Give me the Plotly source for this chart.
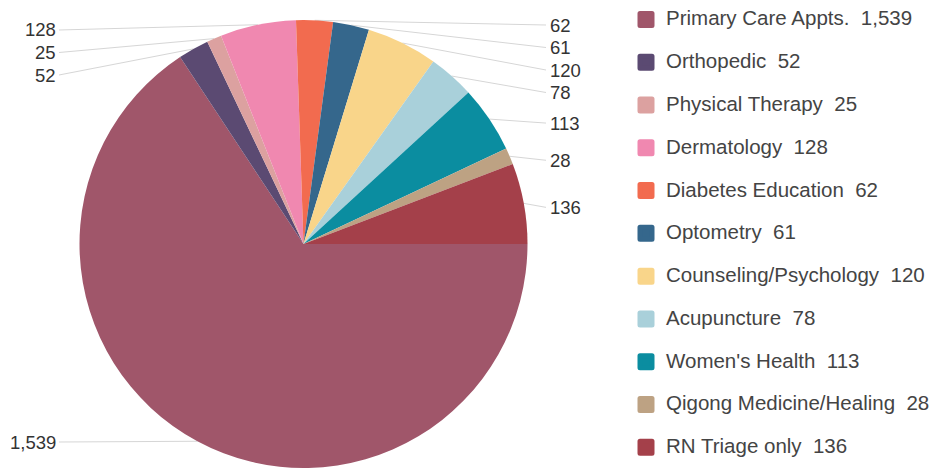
import math
import plotly.graph_objects as go

# ---------------- data ----------------
categories = ["Primary Care Appts.", "Orthopedic", "Physical Therapy", "Dermatology",
              "Diabetes Education", "Optometry", "Counseling/Psychology", "Acupuncture",
              "Women's Health", "Qigong Medicine/Healing", "RN Triage only"]
values = [1539, 52, 25, 128, 62, 61, 120, 78, 113, 28, 136]
colors = ["#A0566A", "#5B4A72", "#DCA1A0", "#F088B0", "#F26B4F", "#35678C",
          "#F9D58A", "#A9D0DA", "#0B8DA0", "#BDA283", "#A4404A"]

# ---------------- layout geometry (pixel coords) ----------------
W, H = 950, 468
CX, CY, R = 303.5, 244, 224
FONT = "Liberation Sans, Arial, sans-serif"

def px2x(px):
    return px / W

def px2y(py):
    return 1 - py / H

legend_text = []
for i, (c, v) in enumerate(zip(categories, values)):
    t = f"<span style='font-size:20.5px'>{c}\u00a0\u00a0{v:,}</span>"
    if i < len(categories) - 1:
        t += "<br> "
    legend_text.append(t)

domain = dict(x=[px2x(CX - R), px2x(CX + R)], y=[px2y(CY + R), px2y(CY - R)])

fig = go.Figure()
fig.add_trace(go.Pie(
    labels=legend_text, values=values, sort=False, direction="clockwise", rotation=90,
    marker=dict(colors=colors, line=dict(width=0)), textinfo="none",
    showlegend=False, domain=domain, hoverinfo="label+value",
))
# tiny helper pie (hidden behind the legend box) that supplies the legend swatches
fig.add_trace(go.Pie(
    labels=legend_text, values=values, sort=False, direction="clockwise", rotation=90,
    marker=dict(colors=colors, line=dict(width=5, color=colors)), textinfo="none",
    showlegend=True, domain=dict(x=[0.85, 0.8501], y=[0.5, 0.5001]), hoverinfo="skip",
))

# ---------------- outside value labels with leader lines ----------------
total = sum(values)
cum = 0
items = []
for v in values:
    a0 = -cum / total * 360
    a1 = -(cum + v) / total * 360
    mid = math.radians((a0 + a1) / 2)
    ex = CX + R * math.cos(mid)
    ey = CY - R * math.sin(mid)
    items.append(dict(v=v, ex=ex, ey=ey, side="right" if math.cos(mid) > 0 else "left",
                      desired=ey + 4))
    cum += v

GAP = 22.5
for side, top, xlab, xline, anchor in [("right", 25, 548, 546, "left"), ("left", 30, 58, 59, "right")]:
    group = sorted([it for it in items if it["side"] == side], key=lambda d: d["desired"])
    prev = None
    for it in group:
        y = max(it["desired"], top if prev is None else prev + GAP)
        y = min(y, 442)
        prev = y
        it["ly"] = y
        it["lx"] = xlab
        it["lxl"] = xline
        it["anchor"] = anchor

annotations = []
shapes = []
for it in items:
    annotations.append(dict(
        x=px2x(it["lx"]), y=px2y(it["ly"]), xref="paper", yref="paper",
        text=f"{it['v']:,}", showarrow=False, xanchor=it["anchor"], yanchor="middle",
        font=dict(family=FONT, size=18.5, color="#333333"),
    ))
    shapes.append(dict(
        type="line", xref="paper", yref="paper", layer="below",
        x0=px2x(it["lxl"]), y0=px2y(it["ly"]), x1=px2x(it["ex"]), y1=px2y(it["ey"]),
        line=dict(color="#D6D6D6", width=1),
    ))

fig.update_layout(
    width=W, height=H,
    margin=dict(l=0, r=0, t=0, b=0),
    paper_bgcolor="white", plot_bgcolor="white",
    font=dict(family=FONT, color="#444444"),
    annotations=annotations, shapes=shapes,
    legend=dict(
        x=px2x(626), y=px2y(3), xanchor="left", yanchor="top",
        font=dict(family=FONT, size=15.3, color="#444444"),
        valign="top", bgcolor="white", borderwidth=0, tracegroupgap=0,
    ),
)

# remove the browser's default 8px page margin and soften the legend swatch corners
post = ("document.body.style.margin='0';"
        "document.querySelectorAll('path.legendpie').forEach(function(p){"
        "p.style.strokeLinejoin='round';});")
fig.write_html("out.html", post_script=post, config={"displayModeBar": False})
